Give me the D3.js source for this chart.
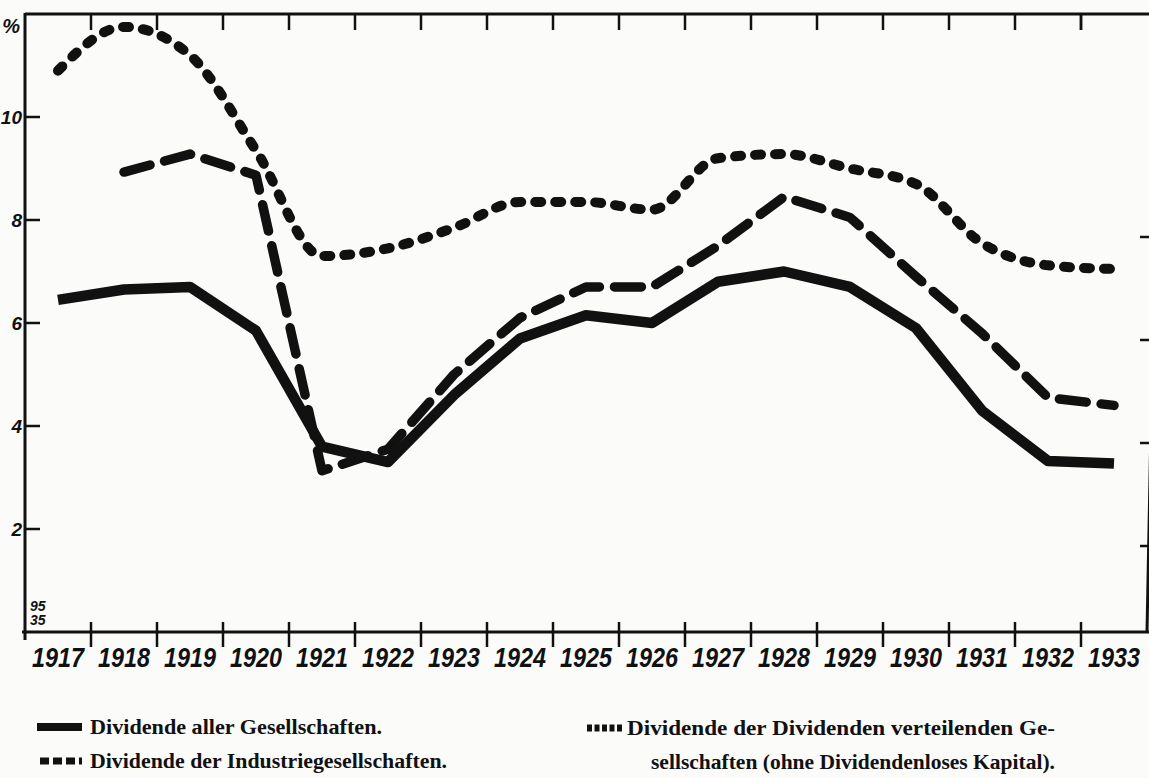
<!DOCTYPE html>
<html>
<head>
<meta charset="utf-8">
<script src="https://cdn.jsdelivr.net/npm/d3@7"></script>
<style>
  html, body { margin: 0; padding: 0; background: #fbfbf9; }
  svg { display: block; }
</style>
</head>
<body>
<svg class="chart" width="1149" height="778"></svg>
<script>
const years = [1917, 1918, 1919, 1920, 1921, 1922, 1923, 1924, 1925, 1926, 1927, 1928, 1929, 1930, 1931, 1932, 1933];

// Dividende aller Gesellschaften (%)
const allCompanies = [6.45, 6.65, 6.7, 5.85, 3.6, 3.3, 4.6, 5.7, 6.15, 6.0, 6.8, 7.0, 6.7, 5.9, 4.3, 3.32, 3.27];
// Dividende der Industriegesellschaften (%), ab 1918
const industrial = [null, 8.93, 9.28, 8.87, 3.13, 3.55, 5.0, 6.1, 6.7, 6.7, 7.5, 8.45, 8.05, 6.9, 5.8, 4.55, 4.4];
// Dividende der Dividenden verteilenden Gesellschaften (%)
const payingOnly = [10.9, 11.75, 11.2, 9.35, 7.3, 7.45, 7.85, 8.35, 8.35, 8.2, 9.2, 9.28, 9.0, 8.7, 7.55, 7.12, 7.05];

const yTicks = [2, 4, 6, 8, 10];
const rightTicks = [2, 4, 6, 8];
const legendLines = [
    "Dividende aller Gesellschaften.",
    "Dividende der Industriegesellschaften.",
    "Dividende der Dividenden verteilenden Ge-",
    "sellschaften (ohne Dividendenloses Kapital)."
];

const ink = "#111";
const svg = d3.select(".chart");

const x = d3.scaleBand().domain(years).range([25, 1147]).padding(0);
const y = d3.scaleLinear().domain([0, 12]).range([632, 14]);
const cx = d => x(d) + x.bandwidth() / 2;

// frame
svg.append("line").attr("x1", 25).attr("x2", 1160).attr("y1", y(12)).attr("y2", y(12))
    .attr("stroke", ink).attr("stroke-width", 3);
svg.append("line").attr("x1", 25).attr("x2", 25).attr("y1", y(12) - 1).attr("y2", y(0) + 8)
    .attr("stroke", ink).attr("stroke-width", 3);
svg.append("line").attr("x1", 22).attr("x2", 1160).attr("y1", y(0)).attr("y2", y(0))
    .attr("stroke", ink).attr("stroke-width", 3);
// right border, slightly skewed in the scan, only its foot is visible
svg.append("line").attr("x1", 1159).attr("x2", 1147).attr("y1", y(12)).attr("y2", y(0))
    .attr("stroke", ink).attr("stroke-width", 3);

// year boundary ticks, bottom and top
const bounds = years.slice(1);
svg.append("g").selectAll("line")
    .data(bounds)
    .join("line")
    .attr("x1", d => x(d)).attr("x2", d => x(d))
    .attr("y1", y(0) - 10).attr("y2", y(0) + 15)
    .attr("stroke", ink).attr("stroke-width", 2.5);
svg.append("g").selectAll("line")
    .data(bounds.concat([1933]))
    .join("line")
    .attr("x1", d => x(d)).attr("x2", d => x(d))
    .attr("y1", y(12)).attr("y2", y(12) + 16)
    .attr("stroke", ink).attr("stroke-width", 2.5);

// year labels
svg.append("g").selectAll("text")
    .data(years)
    .join("text")
    .attr("x", d => cx(d))
    .attr("y", 667)
    .attr("text-anchor", "middle")
    .attr("textLength", 52)
    .attr("lengthAdjust", "spacingAndGlyphs")
    .style("font", "italic bold 28px 'Liberation Sans', sans-serif")
    .attr("fill", ink)
    .text(d => d);

// left y ticks
svg.append("g").selectAll("line")
    .data(yTicks)
    .join("line")
    .attr("x1", 25).attr("x2", 40)
    .attr("y1", d => y(d)).attr("y2", d => y(d))
    .attr("stroke", ink).attr("stroke-width", 2.5);
svg.append("g").selectAll("text")
    .data(yTicks)
    .join("text")
    .attr("x", 22)
    .attr("y", d => y(d) + 7)
    .attr("text-anchor", "end")
    .style("font", "italic bold 19px 'Liberation Sans', sans-serif")
    .attr("fill", ink)
    .text(d => d);

// right border ticks
svg.append("g").selectAll("line")
    .data(rightTicks)
    .join("line")
    .attr("x1", 1140).attr("x2", 1160)
    .attr("y1", d => y(d) + 17).attr("y2", d => y(d) + 17)
    .attr("stroke", ink).attr("stroke-width", 2.5);

svg.append("text").attr("x", 20).attr("y", 33)
    .attr("text-anchor", "end")
    .style("font", "italic bold 20px 'Liberation Sans', sans-serif")
    .attr("fill", ink).text("%");
svg.append("text").attr("x", 30).attr("y", 611)
    .style("font", "italic bold 14px 'Liberation Sans', sans-serif")
    .attr("fill", ink).text("95");
svg.append("text").attr("x", 30).attr("y", 625)
    .style("font", "italic bold 14px 'Liberation Sans', sans-serif")
    .attr("fill", ink).text("35");

// series
const lineLinear = d3.line()
    .defined(d => d.v != null)
    .x(d => cx(d.year))
    .y(d => y(d.v));
const lineSmooth = d3.line()
    .defined(d => d.v != null)
    .x(d => cx(d.year))
    .y(d => y(d.v))
    .curve(d3.curveMonotoneX);

const pack = arr => years.map((yr, i) => ({ year: yr, v: arr[i] }));

const series = [
    { data: pack(payingOnly), gen: lineSmooth, width: 10, dash: "6,14" },
    { data: pack(industrial), gen: lineLinear, width: 9.5, dash: "27,15" },
    { data: pack(allCompanies), gen: lineLinear, width: 10.5, dash: null }
];

svg.append("g").selectAll("path")
    .data(series)
    .join("path")
    .attr("fill", "none")
    .attr("stroke", ink)
    .attr("stroke-width", d => d.width)
    .attr("stroke-linejoin", "round")
    .attr("stroke-linecap", d => d.dash ? "round" : "butt")
    .attr("stroke-dasharray", d => d.dash)
    .attr("d", d => d.gen(d.data));

// legend
const legend = svg.append("g");
legend.append("line").attr("x1", 37).attr("x2", 82).attr("y1", 727).attr("y2", 727)
    .attr("stroke", ink).attr("stroke-width", 8);
legend.append("line").attr("x1", 40).attr("x2", 82).attr("y1", 761).attr("y2", 761)
    .attr("stroke", ink).attr("stroke-width", 7)
    .attr("stroke-dasharray", "9,4");
legend.append("line").attr("x1", 587).attr("x2", 622).attr("y1", 728).attr("y2", 728)
    .attr("stroke", ink).attr("stroke-width", 7)
    .attr("stroke-dasharray", "5,2.5");

const legendPos = [[90, 734, 292], [90, 768, 357], [627, 735, 428], [651, 769, 404]];
legend.selectAll("text")
    .data(legendLines)
    .join("text")
    .attr("x", (d, i) => legendPos[i][0])
    .attr("y", (d, i) => legendPos[i][1])
    .attr("textLength", (d, i) => legendPos[i][2])
    .attr("lengthAdjust", "spacingAndGlyphs")
    .style("font", "bold 20px 'Liberation Serif', serif")
    .attr("fill", ink)
    .text(d => d);
</script>
</body>
</html>
